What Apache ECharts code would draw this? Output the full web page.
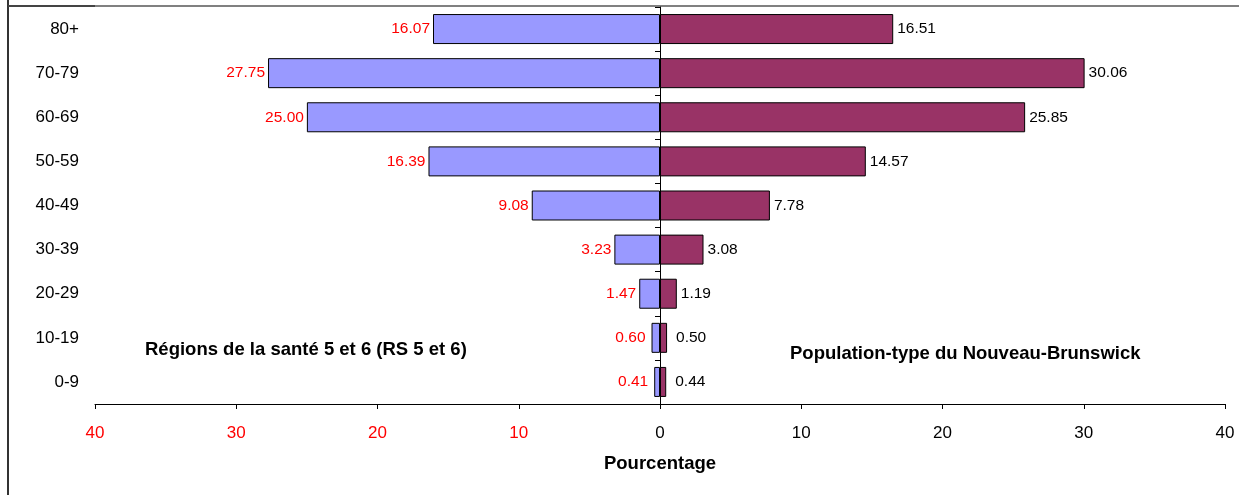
<!DOCTYPE html>
<html>
<head>
<meta charset="utf-8">
<script src="https://cdn.jsdelivr.net/npm/echarts@6/dist/echarts.min.js"></script>
<style>
html,body{margin:0;padding:0;background:#fff;}
#chart{width:1239px;height:495px;}
</style>
</head>
<body>
<div id="chart"></div>
<script>
var categories = ['0-9','10-19','20-29','30-39','40-49','50-59','60-69','70-79','80+'];
var regionValues = [0.41,0.60,1.47,3.23,9.08,16.39,25.00,27.75,16.07];
var nbValues = [0.44,0.50,1.19,3.08,7.78,14.57,25.85,30.06,16.51];
var xTicks = {min:-40,max:40,interval:10};
var leftLabel = 'Régions de la santé 5 et 6 (RS 5 et 6)';
var rightLabel = 'Population-type du Nouveau-Brunswick';
var axisName = 'Pourcentage';

var FONT = '"Liberation Sans", Arial, sans-serif';
var chart = echarts.init(document.getElementById('chart'));
function withDist(v, neg){
  var item = {value: neg ? -v : v};
  if (v < 1) item.label = {distance: neg ? 6 : 9};
  return item;
}
chart.setOption({
  animation:false,
  textStyle:{fontFamily:FONT},
  grid:{left:95,right:14,top:7,height:397,containLabel:false},
  xAxis:{
    type:'value',min:xTicks.min,max:xTicks.max,interval:xTicks.interval,
    splitLine:{show:false},
    axisLine:{show:true,onZero:false,lineStyle:{color:'#000',width:1}},
    axisTick:{show:true,length:5,lineStyle:{color:'#000'}},
    axisLabel:{margin:21,fontSize:17,fontFamily:FONT,
      formatter:function(v){return String(Math.abs(v));},
      color:function(v){return Number(v)<0?'#ff0000':'#000';}},
    name:axisName,nameLocation:'middle',nameGap:50,
    nameTextStyle:{fontSize:18.5,fontWeight:'bold',color:'#000',fontFamily:FONT}
  },
  yAxis:[{
    type:'category',data:categories,
    axisLine:{show:false,onZero:false},axisTick:{show:false},
    axisLabel:{margin:16,fontSize:17,color:'#000',fontFamily:FONT}
  },{
    type:'category',data:categories,position:'left',
    axisLine:{show:true,onZero:true,lineStyle:{color:'#000',width:1}},
    axisTick:{show:true,length:5,inside:false,lineStyle:{color:'#000'}},
    axisLabel:{show:false}
  }],
  series:[{
    type:'bar',name:'RS',yAxisIndex:0,barWidth:'68%',barGap:'-100%',
    data:regionValues.map(function(v){return withDist(v,true);}),
    itemStyle:{color:'#9999ff',borderColor:'#000',borderWidth:1},
    label:{show:true,position:'left',distance:3,color:'#ff0000',fontSize:15.5,fontFamily:FONT,
      formatter:function(p){return Math.abs(p.value).toFixed(2);}}
  },{
    type:'bar',name:'NB',yAxisIndex:0,barWidth:'68%',barGap:'-100%',
    data:nbValues.map(function(v){return withDist(v,false);}),
    itemStyle:{color:'#993366',borderColor:'#000',borderWidth:1},
    label:{show:true,position:'right',distance:4,color:'#000',fontSize:15.5,fontFamily:FONT,
      formatter:function(p){return Number(p.value).toFixed(2);}}
  }],
  graphic:[
    {type:'line',shape:{x1:8,y1:0,x2:8,y2:495},style:{stroke:'#333',lineWidth:2},silent:true},
    {type:'line',shape:{x1:8,y1:6,x2:95,y2:6},style:{stroke:'#444',lineWidth:2},silent:true},
    {type:'line',shape:{x1:95,y1:6,x2:1239,y2:6},style:{stroke:'#808080',lineWidth:2},silent:true},
    {type:'text',left:145,top:340,style:{text:leftLabel,font:'bold 18.5px '+FONT,fill:'#000'}},
    {type:'text',left:790,top:344,style:{text:rightLabel,font:'bold 18.5px '+FONT,fill:'#000'}}
  ]
});
</script>
</body>
</html>
